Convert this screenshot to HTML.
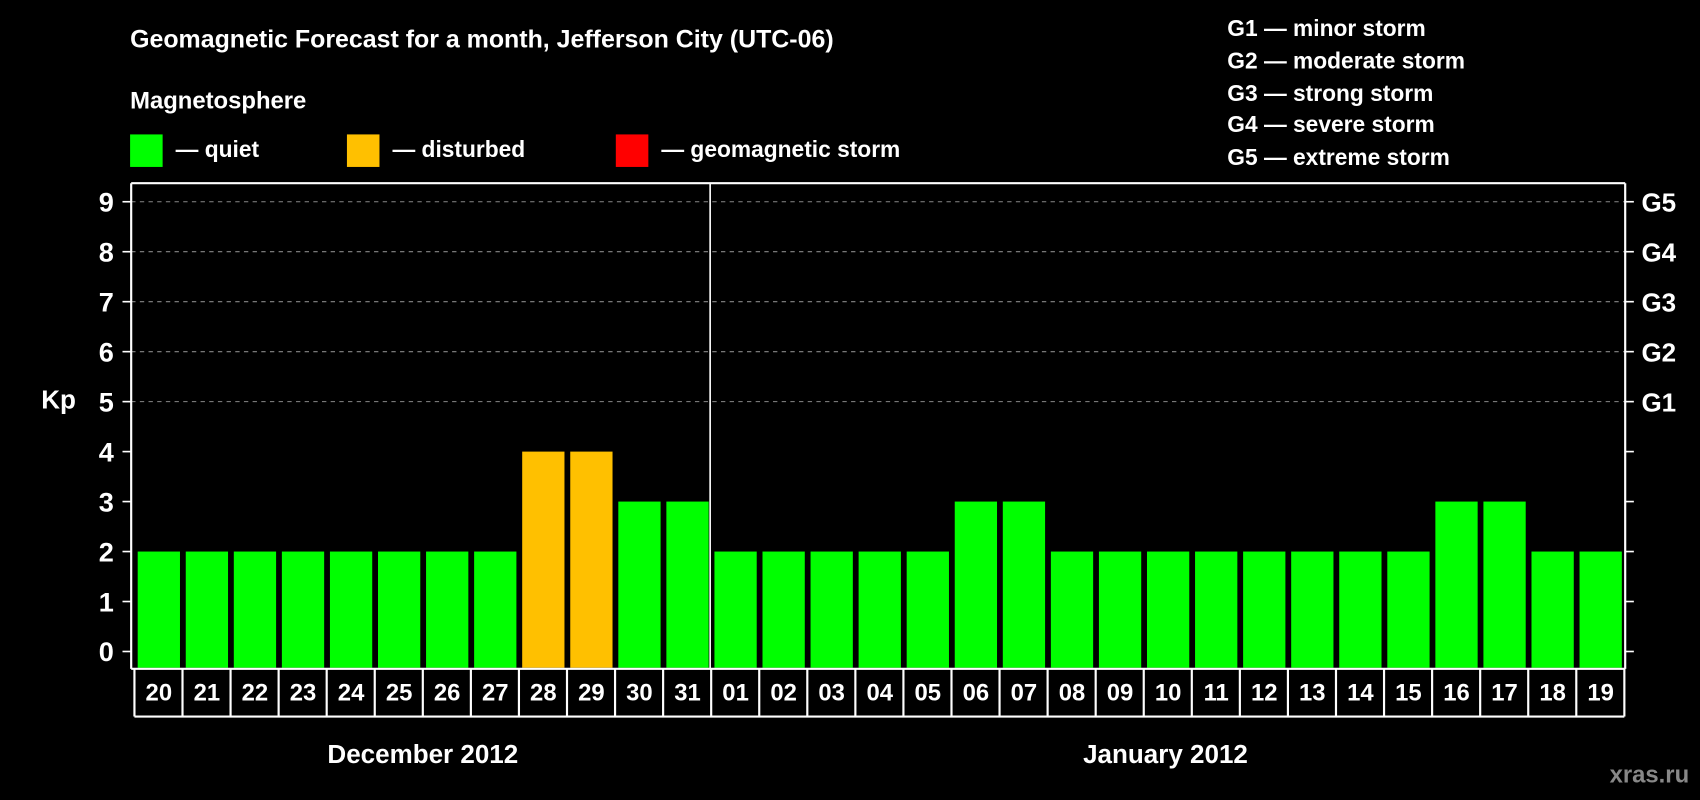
<!DOCTYPE html>
<html><head><meta charset="utf-8"><style>
html,body{margin:0;padding:0;background:#000;width:1700px;height:800px;overflow:hidden}
svg{display:block;font-family:"Liberation Sans",Arial,sans-serif;font-weight:bold}
</style></head><body>
<svg id="chart" width="1700" height="800" viewBox="0 0 1568 738" preserveAspectRatio="none" xmlns="http://www.w3.org/2000/svg">
<rect width="1568" height="738" fill="#000"/>
<text x="120" y="44" fill="#fff" font-size="23">Geomagnetic Forecast for a month, Jefferson City (UTC-06)</text>
<text x="120" y="100" fill="#fff" font-size="22">Magnetosphere</text>
<g>
<rect x="120" y="124" width="30" height="30" fill="#00ff00"/>
<text x="162" y="145" fill="#fff" font-size="21">— quiet</text>
<rect x="320" y="124" width="30" height="30" fill="#ffc000"/>
<text x="362" y="145" fill="#fff" font-size="21">— disturbed</text>
<rect x="568" y="124" width="30" height="30" fill="#ff0000"/>
<text x="610" y="145" fill="#fff" font-size="21">— geomagnetic storm</text>
</g>
<g fill="#fff" font-size="21">
<text x="1132" y="33">G1 — minor storm</text>
<text x="1132" y="63">G2 — moderate storm</text>
<text x="1132" y="93">G3 — strong storm</text>
<text x="1132" y="122">G4 — severe storm</text>
<text x="1132" y="152">G5 — extreme storm</text>
</g>
<text x="38" y="377" fill="#fff" font-size="24">Kp</text>
<text x="390" y="704" fill="#fff" font-size="24" text-anchor="middle">December 2012</text>
<text x="1075" y="704" fill="#fff" font-size="24" text-anchor="middle">January 2012</text>
<text x="1558" y="722" fill="#888" font-size="22" text-anchor="end">xras.ru</text>
<g id="grid"></g><g id="bars"></g><g id="axes"></g>
</svg>
<script>
const days = ["20","21","22","23","24","25","26","27","28","29","30","31","01","02","03","04","05","06","07","08","09","10","11","12","13","14","15","16","17","18","19"];
const kp = [2,2,2,2,2,2,2,2,4,4,3,3,2,2,2,2,2,3,3,2,2,2,2,2,2,2,2,3,3,2,2];
const yTicks = [0,1,2,3,4,5,6,7,8,9];
const gLabels = ["G1","G2","G3","G4","G5"];
const gLevels = [5,6,7,8,9];
const NS="http://www.w3.org/2000/svg";
const X0=121,X1=1499,Ytop=169,Ybot=617,step=44.33;
const y=v=>601-v*46.1;
const bx=i=>127+i*step;
function mk(t,a,p){const e=document.createElementNS(NS,t);for(const k in a)e.setAttribute(k,a[k]);p.appendChild(e);return e;}
const grid=document.getElementById('grid'),bars=document.getElementById('bars'),axes=document.getElementById('axes');
gLevels.forEach(v=>{
 const l=mk('line',{x1:X0,x2:X1,y1:y(v),y2:y(v),stroke:'#888','stroke-dasharray':'4,4','stroke-width':1},grid);
 
 
});
kp.forEach((v,i)=>{
 const c=v>=5?'#ff0000':(v>=4?'#ffc000':'#00ff00');
 const r=mk('rect',{x:bx(i),y:y(v),width:39,height:616-y(v),fill:c},bars);
 
 
});
mk('line',{x1:X0,x2:X0,y1:Ytop,y2:Ybot,stroke:'#fff','stroke-width':2},axes);
mk('line',{x1:X1,x2:X1,y1:Ytop,y2:Ybot,stroke:'#fff','stroke-width':2},axes);
mk('line',{x1:X0,x2:X1,y1:Ytop,y2:Ytop,stroke:'#fff','stroke-width':2},axes);
mk('line',{x1:X0,x2:X1,y1:Ybot,y2:Ybot,stroke:'#fff','stroke-width':2},axes);
mk('line',{x1:655,x2:655,y1:Ytop,y2:Ybot,stroke:'#fff','stroke-width':1.5},axes);
yTicks.forEach(v=>{
 mk('line',{x1:113,x2:X0,y1:y(v),y2:y(v),stroke:'#fff','stroke-width':1.5},axes);
 mk('line',{x1:X1,x2:1507,y1:y(v),y2:y(v),stroke:'#fff','stroke-width':1.5},axes);
 const t=mk('text',{x:105,y:y(v)+9,fill:'#fff','font-size':25,'text-anchor':'end'},axes);
 t.textContent=v;
 
 
});
gLevels.forEach((v,i)=>{
 const t=mk('text',{x:1514,y:y(v)+9,fill:'#fff','font-size':24},axes);
 t.textContent=gLabels[i];
 
 
});
const rowTop=617,rowBot=661;
mk('line',{x1:124,x2:124+days.length*step,y1:rowBot,y2:rowBot,stroke:'#fff','stroke-width':2},axes);
for(let i=0;i<=days.length;i++){
 mk('line',{x1:124+i*step,x2:124+i*step,y1:rowTop,y2:rowBot,stroke:'#fff','stroke-width':2},axes);
}
days.forEach((d,i)=>{
 const t=mk('text',{x:bx(i)+19.5,y:646,fill:'#fff','font-size':22,'text-anchor':'middle'},axes);
 t.textContent=d;
 
 
});
</script>
</body></html>
